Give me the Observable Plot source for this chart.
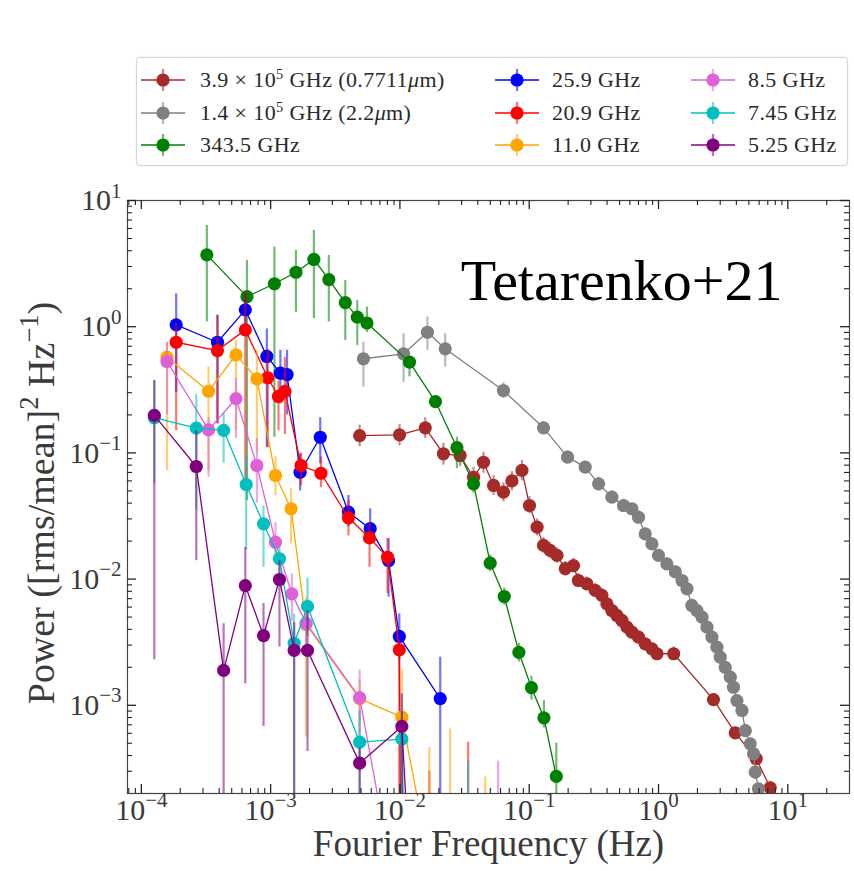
<!DOCTYPE html>
<html><head><meta charset="utf-8">
<script src="https://cdn.jsdelivr.net/npm/d3@7"></script>
<script src="https://cdn.jsdelivr.net/npm/@observablehq/plot@0.6"></script>
<style>
body{margin:0;background:#fff;font-family:"Liberation Serif",serif;}
#wrap{position:relative;width:854px;height:871px;overflow:hidden;}
#legend{position:absolute;left:136px;top:57px;width:712px;height:109px;border:1px solid #d4d4d4;border-radius:4px;box-sizing:border-box;background:#fff;box-shadow:0 0 2px rgba(0,0,0,0.08);}
.mk{position:absolute;height:26px;}
.txt{position:absolute;display:block;font-size:22px;line-height:26px;letter-spacing:0.4px;color:#2a2a2a;white-space:pre;}
.txt sup{font-size:65%;line-height:0;vertical-align:0;position:relative;top:-0.55em;}
#chart{position:absolute;left:0;top:170px;}
</style></head><body>
<div id="wrap"><div id="legend"></div><div id="chart"></div></div>
<script>
// ---------- data (frequency Hz, power, error low, error high) ----------
const brownF = [4.88e-3, 9.93e-3, 0.0157, 0.0217, 0.0292, 0.0371, 0.0443, 0.0530, 0.0632, 0.0735, 0.0879, 0.1005, 0.115, 0.129, 0.145, 0.164, 0.190, 0.220, 0.240, 0.279, 0.324, 0.365, 0.399, 0.436, 0.477, 0.521, 0.570, 0.622, 0.700, 0.789, 0.889, 0.973, 1.31, 2.66, 3.92, 5.70, 7.31];
const brownP = [0.137, 0.139, 0.158, 0.0984, 0.0953, 0.0641, 0.0843, 0.0552, 0.0489, 0.060, 0.0726, 0.0383, 0.0258, 0.0185, 0.0169, 0.0154, 0.0121, 0.0128, 0.00975, 0.00918, 0.00813, 0.00742, 0.00637, 0.00564, 0.00515, 0.00470, 0.00416, 0.00380, 0.00347, 0.00307, 0.00280, 0.00256, 0.00256, 0.00111, 6.05e-4, 3.77e-4, 2.22e-4];
const brownLo = [0.112, 0.114, 0.130, 0.080, 0.078, 0.053, 0.069, 0.046, 0.041, 0.050, 0.060, 0.033, 0.022, 0.016, 0.0146, 0.0134, 0.0106, 0.0112, 0.0086, 0.0081, 0.0072, 0.0066, 0.0057, 0.0050, 0.0046, 0.0042, 0.0037, 0.0034, 0.0031, 0.0028, 0.0025, 0.0023, 0.0023, 0.0010, 5.5e-4, 3.4e-4, 2.0e-4];
const brownHi = [0.166, 0.168, 0.190, 0.119, 0.115, 0.077, 0.101, 0.066, 0.058, 0.071, 0.087, 0.045, 0.030, 0.0214, 0.0195, 0.0177, 0.0138, 0.0146, 0.0111, 0.0104, 0.0092, 0.0084, 0.0072, 0.0064, 0.0058, 0.0053, 0.0047, 0.0043, 0.0039, 0.0034, 0.0031, 0.0029, 0.0029, 0.00124, 6.7e-4, 4.2e-4, 2.5e-4];

const greyF = [5.22e-3, 0.01067, 0.01632, 0.0224, 0.0632, 0.129, 0.198, 0.271, 0.344, 0.436, 0.536, 0.622, 0.700, 0.789, 0.889, 1.00, 1.16, 1.35, 1.52, 1.66, 1.81, 1.98, 2.17, 2.37, 2.59, 2.83, 3.00, 3.28, 3.59, 3.80, 4.04, 4.42, 4.69, 5.12, 5.43, 5.60, 5.93];
const greyP = [0.557, 0.610, 0.904, 0.668, 0.312, 0.158, 0.0925, 0.0771, 0.0569, 0.0446, 0.0383, 0.0361, 0.0309, 0.0228, 0.0190, 0.0154, 0.0132, 0.0114, 0.00975, 0.00838, 0.00618, 0.00564, 0.00499, 0.00416, 0.00347, 0.00289, 0.00241, 0.00200, 0.00167, 0.00139, 0.00109, 9.1e-4, 6.3e-4, 4.95e-4, 4.13e-4, 2.95e-4, 2.18e-4];
const greyLo = [0.332, 0.36, 0.65, 0.48, 0.27, 0.14, 0.083, 0.069, 0.051, 0.040, 0.034, 0.032, 0.028, 0.020, 0.017, 0.0138, 0.0118, 0.0102, 0.0087, 0.0075, 0.0055, 0.0050, 0.0045, 0.0037, 0.0031, 0.0026, 0.0021, 0.0018, 0.0015, 0.00124, 9.7e-4, 8.1e-4, 5.6e-4, 4.4e-4, 3.7e-4, 2.6e-4, 1.9e-4];
const greyHi = [0.754, 0.88, 1.19, 0.88, 0.36, 0.177, 0.104, 0.086, 0.064, 0.050, 0.043, 0.040, 0.035, 0.0255, 0.0213, 0.0172, 0.0148, 0.0128, 0.0109, 0.0094, 0.0069, 0.0063, 0.0056, 0.0047, 0.0039, 0.0032, 0.0027, 0.0022, 0.0019, 0.00156, 0.00122, 0.00102, 7.1e-4, 5.5e-4, 4.6e-4, 3.3e-4, 2.4e-4];

const greenF = [3.21e-4, 6.56e-4, 1.07e-3, 1.57e-3, 2.16e-3, 2.82e-3, 3.78e-3, 4.68e-3, 5.56e-3, 0.01186, 0.01884, 0.0276, 0.0371, 0.0499, 0.0641, 0.0832, 0.104, 0.130, 0.162];
const greenP = [3.71, 1.73, 2.19, 2.70, 3.41, 2.36, 1.55, 1.19, 1.07, 0.524, 0.255, 0.110, 0.0569, 0.01337, 0.00728, 0.00263, 0.00138, 7.96e-4, 2.73e-4];
const greenLo = [1.09, 0.042, 0.133, 1.30, 1.16, 1.09, 0.778, 0.71, 0.90, 0.40, 0.225, 0.075, 0.048, 0.0115, 0.0062, 0.0022, 0.0011, 6.6e-4, 1e-4];
const greenHi = [6.34, 3.35, 4.27, 4.02, 5.78, 3.67, 2.32, 1.61, 1.43, 0.57, 0.285, 0.133, 0.066, 0.0155, 0.0085, 0.0031, 0.0017, 0.00109, 5.0e-4];

const blueF = [1.86e-4, 3.88e-4, 6.37e-4, 9.35e-4, 1.19e-3, 1.34e-3, 1.69e-3, 2.42e-3, 4.0e-3, 5.89e-3, 8.17e-3, 9.89e-3, 0.0205];
const blueP = [1.035, 0.753, 1.36, 0.581, 0.428, 0.418, 0.0703, 0.133, 0.0339, 0.0251, 0.0140, 0.00351, 0.00113];
const blueLo = [0.30, 0.17, 0.85, 0.11, 0.245, 0.20, 0.05, 0.082, 0.026, 0.021, 0.0072, 0.0023, 1e-5];
const blueHi = [1.82, 1.23, 1.85, 0.96, 0.65, 0.65, 0.098, 0.19, 0.046, 0.036, 0.021, 0.0053, 0.0024];

const redF = [1.86e-4, 3.88e-4, 6.37e-4, 9.5e-4, 1.15e-3, 1.29e-3, 1.72e-3, 2.45e-3, 4.0e-3, 5.82e-3, 8.02e-3, 9.89e-3, 0.0102, 0.0169, 0.0337];
const redP = [0.753, 0.647, 0.944, 0.394, 0.280, 0.307, 0.0794, 0.0690, 0.0306, 0.0212, 0.0149, 0.00275, 4e-5, 6e-5, 5e-5];
const redLo = [0.15, 0.17, 0.05, 0.11, 0.15, 0.14, 0.055, 0.053, 0.022, 0.0124, 0.0077, 2e-4, 1e-6, 1e-6, 1e-6];
const redHi = [1.06, 1.23, 1.9, 0.66, 0.37, 0.57, 0.10, 0.093, 0.042, 0.028, 0.021, 0.0032, 1.5e-4, 3.0e-4, 5.1e-4];

const orangeF = [1.58e-4, 3.31e-4, 5.40e-4, 7.83e-4, 1.09e-3, 1.44e-3, 1.88e-3, 4.88e-3, 0.01035, 0.01687, 0.0245, 0.0457];
const orangeP = [0.573, 0.308, 0.598, 0.386, 0.0662, 0.0361, 0.00437, 0.00113, 8.05e-4, 6e-5, 5e-5, 4e-5];
const orangeLo = [0.072, 0.072, 0.15, 0.10, 0.046, 0.019, 5.6e-4, 6e-4, 1e-5, 1e-6, 1e-6, 1e-6];
const orangeHi = [0.75, 0.48, 0.78, 0.65, 0.093, 0.052, 0.0072, 0.0016, 0.0019, 4.6e-4, 6.5e-4, 2.7e-4];

const pinkF = [1.58e-4, 3.31e-4, 5.40e-4, 7.83e-4, 1.09e-3, 1.46e-3, 1.88e-3, 4.88e-3, 0.0101, 0.0575];
const pinkP = [0.530, 0.152, 0.269, 0.0794, 0.0196, 0.00764, 0.00448, 0.00115, 2e-5, 4e-5];
const pinkLo = [0.2, 0.064, 0.13, 0.04, 0.014, 0.0046, 0.003, 3e-4, 1e-7, 1e-7];
const pinkHi = [0.75, 0.19, 0.39, 0.13, 0.028, 0.011, 0.006, 0.0019, 1e-4, 3.6e-4];

const tealF = [1.26e-4, 2.66e-4, 4.33e-4, 6.47e-4, 8.81e-4, 1.17e-3, 1.52e-3, 1.93e-3, 4.88e-3, 0.01035, 0.0112, 0.0337];
const tealP = [0.19, 0.157, 0.151, 0.0562, 0.0274, 0.0145, 0.0031, 0.00607, 5.1e-4, 5.4e-4, 2e-5, 3e-5];
const tealLo = [0.057, 0.035, 0.083, 0.017, 0.0124, 0.011, 1e-5, 0.0035, 1e-5, 1e-5, 1e-7, 1e-7];
const tealHi = [0.375, 0.29, 0.205, 0.093, 0.038, 0.018, 0.0053, 0.0102, 9e-4, 9e-4, 1e-4, 3.6e-4];

const purpleF = [1.26e-4, 2.66e-4, 4.33e-4, 6.37e-4, 8.81e-4, 1.17e-3, 1.52e-3, 1.93e-3, 4.88e-3, 0.01035, 0.0125];
const purpleP = [0.198, 0.078, 0.00189, 0.00889, 0.00357, 0.00993, 0.00272, 0.00272, 3.48e-4, 6.8e-4, 2e-5];
const purpleLo = [0.0023, 0.014, 1e-5, 0.00148, 6.8e-4, 0.0029, 1e-5, 4.3e-4, 1e-5, 1e-5, 1e-7];
const purpleHi = [0.375, 0.15, 0.00443, 0.0178, 0.0064, 0.014, 0.0045, 0.0056, 4.6e-4, 0.00123, 1e-4];

const seriesNames = ["3.9 × 10^{5} GHz (0.7711μm)", "1.4 × 10^{5} GHz (2.2μm)", "343.5 GHz", "25.9 GHz", "20.9 GHz", "11.0 GHz", "8.5 GHz", "7.45 GHz", "5.25 GHz"];
const seriesColors = ["#a52a2a", "#808080", "#008000", "#0000ff", "#ff0000", "#ffa500", "#e060d8", "#00bfbf", "#800080"];

const xMajor = [1e-4, 1e-3, 1e-2, 1e-1, 1, 10];
const xTickLabels = ["10^{−4}", "10^{−3}", "10^{−2}", "10^{−1}", "10^{0}", "10^{1}"];
const yMajor = [1e-3, 1e-2, 1e-1, 1, 10];
const yTickLabels = ["10^{−3}", "10^{−2}", "10^{−1}", "10^{0}", "10^{1}"];
const xTitle = "Fourier Frequency (Hz)";
const yTitle = "Power ([rms/mean]^{2} Hz^{−1})";
const note = "Tetarenko+21";

// ---------- build ----------
const seriesData = [
  [brownF, brownP, brownLo, brownHi], [greyF, greyP, greyLo, greyHi], [greenF, greenP, greenLo, greenHi],
  [blueF, blueP, blueLo, blueHi], [redF, redP, redLo, redHi], [orangeF, orangeP, orangeLo, orangeHi],
  [pinkF, pinkP, pinkLo, pinkHi], [tealF, tealP, tealLo, tealHi], [purpleF, purpleP, purpleLo, purpleHi]
];

const svgH = 701, W = 854;
const mT = 30, mB = 78, mL = 127, mR = 5;
const plotW = W - mL - mR, plotH = svgH - mT - mB;
const xDomain = [Math.pow(10, -4.107), 30];
const yDomain = [2.0e-4, 10];

function minorTicks(lo, hi) {
  const out = [];
  for (let e = -6; e <= 2; e++) for (let k = 2; k <= 9; k++) {
    const v = k * Math.pow(10, e);
    if (v > lo * 1.001 && v < hi * 0.999) out.push(v);
  }
  return out;
}
const xMinor = minorTicks(xDomain[0], xDomain[1]);
const yMinor = minorTicks(yDomain[0], yDomain[1]);

const marks = [];
seriesData.forEach(([F, P, Lo, Hi], si) => {
  const c = seriesColors[si];
  const d = F.map((f, i) => ({f, p: P[i], lo: Lo[i], hi: Hi[i]}));
  marks.push(Plot.ruleX(d.filter(r => r.lo != null), {x: "f", y1: "lo", y2: "hi", stroke: c, strokeWidth: 2.2, strokeOpacity: 0.55, clip: true}));
  marks.push(Plot.line(d, {x: "f", y: "p", stroke: c, strokeWidth: 1.3, clip: true}));
  marks.push(Plot.dot(d, {x: "f", y: "p", r: 6.6, fill: c, clip: true}));
});

const tk = "#222";
marks.push(
  Plot.frame({stroke: "#444", strokeWidth: 1.2}),
  Plot.tickX(xMajor, {x: d => d, insetTop: plotH - 9, stroke: tk, strokeWidth: 1.3}),
  Plot.tickX(xMajor, {x: d => d, insetBottom: plotH - 9, stroke: tk, strokeWidth: 1.3}),
  Plot.tickX(xMinor, {x: d => d, insetTop: plotH - 5, stroke: tk, strokeWidth: 1.1}),
  Plot.tickX(xMinor, {x: d => d, insetBottom: plotH - 5, stroke: tk, strokeWidth: 1.1}),
  Plot.tickY(yMajor, {y: d => d, insetRight: plotW - 9, stroke: tk, strokeWidth: 1.3}),
  Plot.tickY(yMajor, {y: d => d, insetLeft: plotW - 9, stroke: tk, strokeWidth: 1.3}),
  Plot.tickY(yMinor, {y: d => d, insetRight: plotW - 5, stroke: tk, strokeWidth: 1.1}),
  Plot.tickY(yMinor, {y: d => d, insetLeft: plotW - 5, stroke: tk, strokeWidth: 1.1}),
  Plot.text(xMajor, {x: d => d, frameAnchor: "bottom", dy: 26, text: (d, i) => xTickLabels[i], fontSize: 30, fill: "#3a3a3a"}),
  Plot.text(yMajor, {y: d => d, frameAnchor: "left", dx: -6, textAnchor: "end", text: (d, i) => yTickLabels[i], fontSize: 30, fill: "#3a3a3a"}),
  Plot.text([xTitle], {frameAnchor: "bottom", dy: 62, textAnchor: "middle", fontSize: 37, fill: "#3a3a3a"}),
  Plot.text([yTitle], {frameAnchor: "left", dx: -86, dy: 6, textAnchor: "middle", rotate: -90, fontSize: 38, fill: "#3a3a3a"}),
  Plot.text([note], {frameAnchor: "top-right", dx: -67, dy: 58, textAnchor: "end", fontSize: 58, fill: "#000"})
);

const chart = Plot.plot({
  width: W, height: svgH,
  marginLeft: mL, marginRight: mR, marginTop: mT, marginBottom: mB,
  x: {type: "log", domain: xDomain, axis: null},
  y: {type: "log", domain: yDomain, axis: null},
  style: {fontFamily: "Liberation Serif, serif", background: "white", overflow: "visible"},
  marks
});
document.getElementById("chart").appendChild(chart);

// superscript post-processing for "^{...}" in SVG text
const NS = "http://www.w3.org/2000/svg";
function applySup(root) {
  const nodes = [...root.querySelectorAll("text, tspan")].filter(n => n.children.length === 0 && n.textContent.includes("^{"));
  for (const n of nodes) {
    const s = n.textContent;
    const fs = parseFloat(getComputedStyle(n).fontSize) || 20;
    n.textContent = "";
    const re = /\^\{([^}]*)\}/g;
    let last = 0, m, shift = 0;
    const add = (txt, sup) => {
      const t = document.createElementNS(NS, "tspan");
      t.textContent = txt;
      if (sup) {
        t.setAttribute("font-size", (fs * 0.7).toFixed(1));
        t.setAttribute("dy", (-fs * 0.42).toFixed(1));
        shift = fs * 0.42;
      } else if (shift) {
        t.setAttribute("dy", shift.toFixed(1));
        shift = 0;
      }
      n.appendChild(t);
    };
    while ((m = re.exec(s))) {
      if (m.index > last) add(s.slice(last, m.index), false);
      add(m[1], true);
      last = re.lastIndex;
    }
    if (last < s.length) add(s.slice(last), false);
  }
}
applySup(chart);

// legend
const legendPos = [
  [163, 80, 200], [163, 113, 200], [163, 145, 200],
  [517, 80, 552], [517, 113, 552], [517, 145, 552],
  [713, 80, 748], [713, 113, 748], [713, 145, 748]
];
const wrap = document.getElementById("wrap");
seriesNames.forEach((name, i) => {
  const [cx, cy, tx] = legendPos[i];
  const c = seriesColors[i];
  const mk = document.createElement("div");
  mk.className = "mk";
  mk.style.left = (cx - 22) + "px";
  mk.style.top = (cy - 13) + "px";
  mk.innerHTML = `<svg width="44" height="26" style="display:block"><line x1="0" x2="44" y1="13" y2="13" stroke="${c}" stroke-width="1.5"/><line x1="22" x2="22" y1="2" y2="24" stroke="${c}" stroke-width="2.2" stroke-opacity="0.55"/><circle cx="22" cy="13" r="6.6" fill="${c}"/></svg>`;
  wrap.appendChild(mk);
  const tl = document.createElement("div");
  tl.className = "txt";
  tl.style.left = tx + "px";
  tl.style.top = (cy - 13) + "px";
  tl.innerHTML = name.replace(/\^\{([^}]*)\}/g, "<sup>$1</sup>").replace("μ", "<i>μ</i>");
  wrap.appendChild(tl);
});
</script>
</body></html>
